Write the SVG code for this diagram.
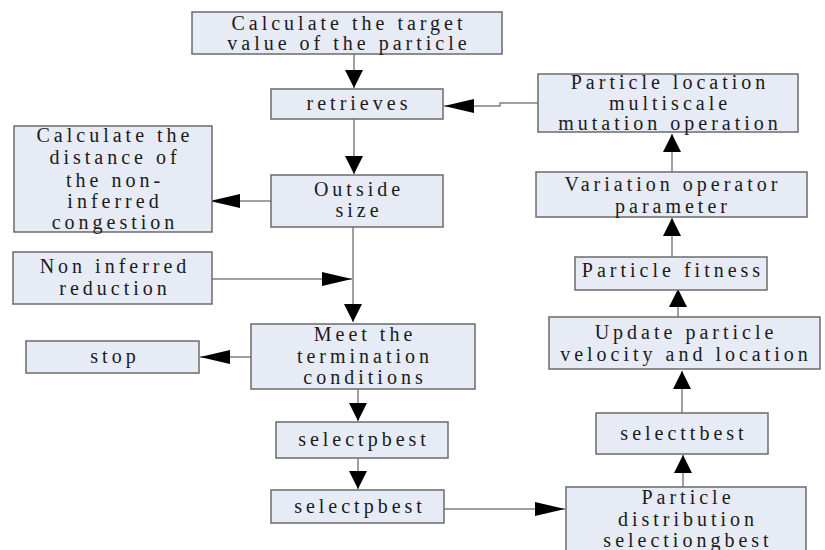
<svg xmlns="http://www.w3.org/2000/svg" width="825" height="550" viewBox="0 0 825 550">
<style>
.box{fill:#e6ebf5;stroke:#6b6b6b;stroke-width:1.5}
.t{font-size:20px;letter-spacing:4px;fill:#1a1a1a;text-anchor:middle}
.c{fill:none;stroke:#808080;stroke-width:1.5}
.v{marker-end:url(#av)}
.h{marker-end:url(#ah)}
</style>
<defs>
<marker id="av" markerUnits="userSpaceOnUse" markerWidth="18" markerHeight="18" refX="18" refY="9" orient="auto"><path d="M0,0 L18,9 L0,18 z" fill="#000"/></marker>
<marker id="ah" markerUnits="userSpaceOnUse" markerWidth="30" markerHeight="14" refX="30" refY="7" orient="auto"><path d="M0,0 L30,7 L0,14 z" fill="#000"/></marker>
</defs>
<rect width="825" height="550" fill="#fff"/>
<g id="connectors">
<path class="c v" d="M354,54 V88"/>
<path class="c v" d="M354,119 V174"/>
<path class="c h" d="M538,103 H500 V106 H444"/>
<path class="c h" d="M271,201 H210"/>
<path class="c v" d="M353,227 V322"/>
<path class="c h" d="M212,279 H352"/>
<path class="c h" d="M251,357 H200"/>
<path class="c v" d="M358,389 V421"/>
<path class="c v" d="M358,458 V489"/>
<path class="c h" d="M444,509 H565"/>
<path class="c v" d="M683,487 V455"/>
<path class="c v" d="M682,413 V371"/>
<path class="c v" d="M678,317 V289"/>
<path class="c v" d="M672,257 V218"/>
<path class="c v" d="M672,172 V134"/>
</g>
<g id="nodes" font-family="Liberation Serif, Times New Roman, serif">
<g id="n-target"><rect class="box" x="192" y="12" width="310" height="42"/><text class="t" x="349" y="30">Calculate the target</text><text class="t" x="349" y="50">value of the particle</text></g>
<g id="n-retrieves"><rect class="box" x="271" y="89" width="172" height="30"/><text class="t" x="359" y="110">retrieves</text></g>
<g id="n-distance"><rect class="box" x="14" y="126" width="198" height="106"/><text class="t" x="115" y="142">Calculate the</text><text class="t" x="115" y="164">distance of</text><text class="t" x="115" y="187">the non-</text><text class="t" x="115" y="208">inferred</text><text class="t" x="115" y="229">congestion</text></g>
<g id="n-outside"><rect class="box" x="271" y="175" width="172" height="52"/><text class="t" x="359" y="196">Outside</text><text class="t" x="359" y="217">size</text></g>
<g id="n-noninferred"><rect class="box" x="13" y="252" width="199" height="52"/><text class="t" x="115" y="273">Non inferred</text><text class="t" x="115" y="295">reduction</text></g>
<g id="n-meet"><rect class="box" x="251" y="324" width="224" height="65"/><text class="t" x="365" y="341">Meet the</text><text class="t" x="365" y="363">termination</text><text class="t" x="365" y="384">conditions</text></g>
<g id="n-stop"><rect class="box" x="26" y="341" width="173" height="32"/><text class="t" x="115" y="363">stop</text></g>
<g id="n-selectpbest1"><rect class="box" x="276" y="422" width="172" height="36"/><text class="t" x="364" y="446">selectpbest</text></g>
<g id="n-selectpbest2"><rect class="box" x="271" y="490" width="173" height="33"/><text class="t" x="360" y="513">selectpbest</text></g>
<g id="n-distribution"><rect class="box" x="566" y="487" width="240" height="70"/><text class="t" x="688" y="504">Particle</text><text class="t" x="688" y="526">distribution</text><text class="t" x="688" y="547">selectiongbest</text></g>
<g id="n-selecttbest"><rect class="box" x="596" y="413" width="172" height="41"/><text class="t" x="684" y="440">selecttbest</text></g>
<g id="n-update"><rect class="box" x="549" y="317" width="271" height="52"/><text class="t" x="686" y="339">Update particle</text><text class="t" x="686" y="361">velocity and location</text></g>
<g id="n-fitness"><rect class="box" x="575" y="257" width="192" height="33"/><text class="t" x="673" y="277">Particle fitness</text></g>
<g id="n-variation"><rect class="box" x="536" y="172" width="271" height="45"/><text class="t" x="673" y="191">Variation operator</text><text class="t" x="673" y="213">parameter</text></g>
<g id="n-location"><rect class="box" x="538" y="74" width="260" height="58"/><text class="t" x="670" y="89">Particle location</text><text class="t" x="670" y="110">multiscale</text><text class="t" x="670" y="130">mutation operation</text></g>
</g>
</svg>
